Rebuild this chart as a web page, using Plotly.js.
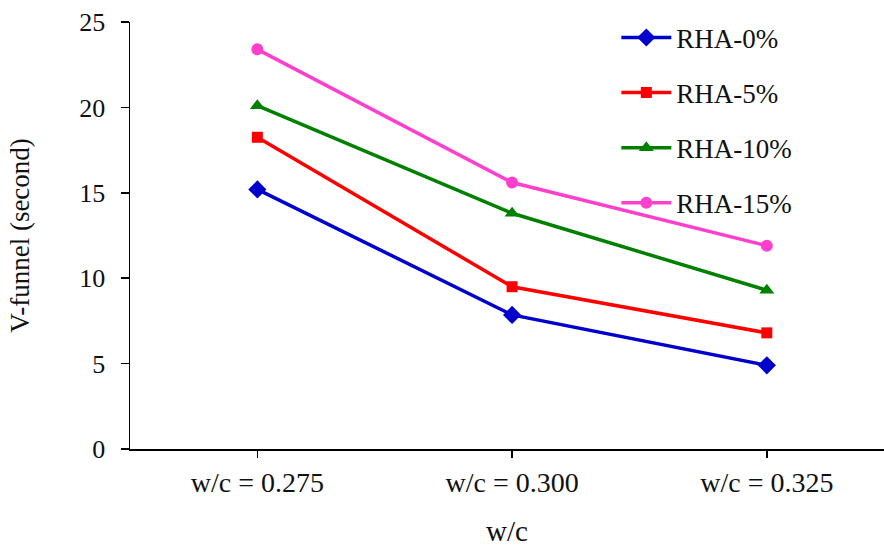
<!DOCTYPE html>
<html>
<head>
<meta charset="utf-8">
<script src="https://cdn.plot.ly/plotly-3.0.1.min.js"></script>
<style>html,body{margin:0;padding:0;background:#fff;}#chart{width:884px;height:547px;}</style>
</head>
<body>
<div id="chart"></div>
<script>
const categories = ["w/c = 0.275", "w/c = 0.300", "w/c = 0.325"];
const rha0 = [15.2, 7.85, 4.9];
const rha5 = [18.25, 9.5, 6.8];
const rha10 = [20.1, 13.8, 9.3];
const rha15 = [23.4, 15.6, 11.9];
const seriesNames = ["RHA-0%", "RHA-5%", "RHA-10%", "RHA-15%"];
const yTicks = [0, 5, 10, 15, 20, 25];

const font = "'Liberation Serif', 'Times New Roman', serif";
function tr(name, y, color, symbol, size, grp) {
  return {
    x: categories, y: y, name: name, type: "scatter", mode: "lines+markers",
    legendgroup: grp,
    line: {color: color, width: 3.5},
    marker: {color: color, symbol: symbol, size: size}
  };
}
const data = [
  tr(seriesNames[0], rha0, "#0000CC", "diamond", 14, "a"),
  tr(seriesNames[1], rha5, "#FF0000", "square", 11, "b"),
  tr(seriesNames[2], rha10, "#008000", "triangle-up", 13, "c"),
  tr(seriesNames[3], rha15, "#FF40CC", "circle", 12, "d")
];
const layout = {
  width: 884, height: 547,
  margin: {l: 130, r: 0, t: 22, b: 98},
  paper_bgcolor: "#fff", plot_bgcolor: "#fff",
  font: {family: font, size: 26, color: "#111"},
  showlegend: true,
  legend: {x: 0.645, y: 1.02, xanchor: "left", yanchor: "top", bgcolor: "rgba(0,0,0,0)",
           font: {family: font, size: 27}, tracegroupgap: 17, itemwidth: 50},
  xaxis: {
    type: "category", range: [-0.5, 2.46],
    showline: true, linecolor: "#000", linewidth: 2,
    ticks: "outside", ticklen: 7, tickwidth: 1.5, tickcolor: "#000",
    showgrid: false, zeroline: false,
    tickfont: {family: font, size: 28},
    title: {text: "w/c", font: {family: font, size: 29}, standoff: 26}
  },
  yaxis: {
    range: [0, 25], tickvals: yTicks,
    showline: true, linecolor: "#000", linewidth: 1.5,
    ticks: "outside", ticklen: 8, tickwidth: 1.5, tickcolor: "#000",
    ticklabelstandoff: 10,
    showgrid: false, zeroline: false,
    tickfont: {family: font, size: 26},
    title: {text: "V-funnel (second)", font: {family: font, size: 27}, standoff: 42}
  }
};
Plotly.newPlot("chart", data, layout, {displayModeBar: false, staticPlot: true});
</script>
</body>
</html>
